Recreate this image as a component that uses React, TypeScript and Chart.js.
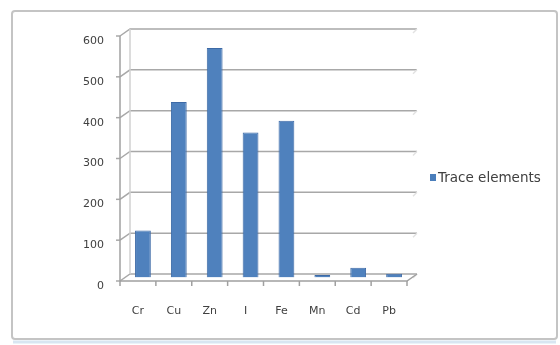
import React, { useEffect, useRef } from "react";
import { Chart, registerables } from "chart.js";

Chart.register(...registerables);

const categories = ["Cr", "Cu", "Zn", "I", "Fe", "Mn", "Cd", "Pb"];
const traceValues = [115, 430, 562, 355, 384, 6, 24, 9];
const seriesName = "Trace elements";
const yTicks = [0, 100, 200, 300, 400, 500, 600];

const DX = 10;
const DY = -7;

const framePlugin = {
  id: "frame",
  beforeDraw(chart: any) {
    const ctx = chart.ctx;
    ctx.save();
    ctx.fillStyle = "#ffffff";
    ctx.fillRect(0, 0, chart.width, chart.height);
    ctx.strokeStyle = "#c4c4c4";
    ctx.lineWidth = 2;
    ctx.beginPath();
    ctx.roundRect(12, 11, 545, 328, 3);
    ctx.stroke();
    ctx.strokeStyle = "#d8e6f2";
    ctx.lineWidth = 3;
    ctx.beginPath();
    ctx.moveTo(13, 342);
    ctx.lineTo(556, 342);
    ctx.stroke();
    ctx.restore();
  },
  beforeDatasetsDraw(chart: any) {
    const ctx = chart.ctx;
    const y = chart.scales.y;
    const area = chart.chartArea;
    ctx.save();
    ctx.lineWidth = 1.5;
    yTicks.forEach((v) => {
      const py = y.getPixelForValue(v);
      ctx.strokeStyle = "#a8a8a8";
      ctx.beginPath();
      ctx.moveTo(area.left, py);
      ctx.lineTo(area.left + DX, py + DY);
      ctx.lineTo(area.right + DX, py + DY);
      ctx.stroke();
      ctx.strokeStyle = "#e2e2e2";
      ctx.beginPath();
      ctx.moveTo(area.right + DX, py + DY);
      ctx.lineTo(area.right + DX - 4, py + DY + 4);
      ctx.stroke();
      ctx.strokeStyle = "#a8a8a8";
      ctx.beginPath();
      ctx.moveTo(area.left - 4, py);
      ctx.lineTo(area.left, py);
      ctx.stroke();
    });
    const y0 = y.getPixelForValue(0);
    const yTop = y.getPixelForValue(600);
    ctx.strokeStyle = "#a0a0a0";
    ctx.beginPath();
    ctx.moveTo(area.left, y0);
    ctx.lineTo(area.right, y0);
    ctx.lineTo(area.right + DX, y0 + DY);
    ctx.stroke();
    ctx.beginPath();
    ctx.moveTo(area.left, yTop);
    ctx.lineTo(area.left, y0);
    ctx.stroke();
    ctx.strokeStyle = "#d0d0d0";
    ctx.beginPath();
    ctx.moveTo(area.left + DX, yTop + DY);
    ctx.lineTo(area.left + DX, y0 + DY);
    ctx.stroke();
    const x = chart.scales.x;
    const step = x.getPixelForValue(1) - x.getPixelForValue(0);
    ctx.strokeStyle = "#a0a0a0";
    for (let i = 0; i <= categories.length; i++) {
      const px = x.getPixelForValue(0) - step / 2 + i * step;
      ctx.beginPath();
      ctx.moveTo(px, y0);
      ctx.lineTo(px, y0 + 5);
      ctx.stroke();
    }
    ctx.restore();
    ctx.save();
    ctx.translate(DX / 2, DY / 2);
  },
  afterDatasetsDraw(chart: any) {
    chart.ctx.restore();
  },
  afterDraw(chart: any) {
    const ctx = chart.ctx;
    ctx.save();
    ctx.fillStyle = "#4a7ebb";
    ctx.fillRect(430, 174, 6, 7);
    ctx.fillStyle = "#404040";
    ctx.font = "13.5px 'DejaVu Sans', sans-serif";
    ctx.textBaseline = "middle";
    ctx.fillText(seriesName, 438, 178);
    ctx.restore();
  },
};

export default function App() {
  const ref = useRef<HTMLCanvasElement>(null);
  useEffect(() => {
    document.body.style.margin = "0";
    const chart = new Chart(ref.current!, {
      type: "bar",
      data: {
        labels: categories,
        datasets: [
          {
            label: seriesName,
            data: traceValues,
            backgroundColor: (c: any) => {
              const el = c.element;
              const ctx = c.chart.ctx;
              if (!el || el.x === undefined) return "#4f81bd";
              const w = el.width || 16;
              const g = ctx.createLinearGradient(el.x - w / 2, 0, el.x + w / 2, 0);
              g.addColorStop(0, "#3a67a8");
              g.addColorStop(0.35, "#5d8fd0");
              g.addColorStop(1, "#3563a3");
              return g;
            },
            borderColor: "#3d6aa6",
            borderWidth: 1,
            barPercentage: 0.44,
            categoryPercentage: 1,
          },
        ],
      },
      options: {
        responsive: false,
        animation: false,
        devicePixelRatio: 1,
        layout: { padding: { left: 12, right: 153, top: 36, bottom: 24 } },
        plugins: { legend: { display: false }, tooltip: { enabled: false } },
        scales: {
          x: {
            grid: { display: false },
            border: { display: false },
            ticks: { color: "#404040", font: { size: 11, family: "'DejaVu Sans', sans-serif" }, padding: 16 },
            afterFit: (s: any) => { s.height = 40; },
          },
          y: {
            min: 0,
            max: 600,
            grid: { display: false },
            border: { display: false },
            ticks: {
              stepSize: 100,
              color: "#404040",
              padding: 8,
              labelOffset: 5,
              font: { size: 11, family: "'DejaVu Sans', sans-serif" },
            },
            afterFit: (s: any) => { s.width = 108; },
          },
        },
      },
      plugins: [framePlugin],
    });
    return () => chart.destroy();
  }, []);
  return <canvas ref={ref} width={560} height={345} style={{ display: "block" }} />;
}
